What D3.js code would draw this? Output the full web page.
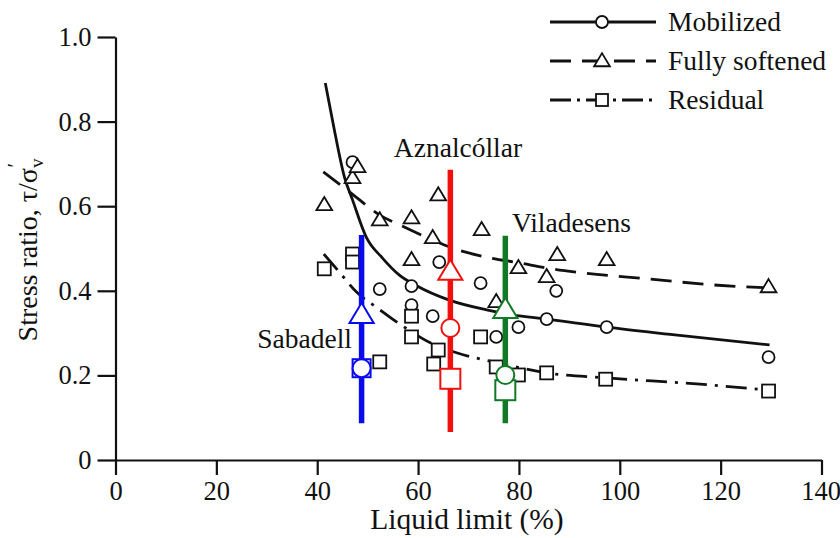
<!DOCTYPE html>
<html>
<head>
<meta charset="utf-8">
<script src="https://cdn.jsdelivr.net/npm/d3@7"></script>
<style>
  html, body { margin: 0; padding: 0; background: #fff; }
  svg { display: block; }
  text { font-family: "Liberation Serif", "Times New Roman", serif; fill: #111; }
</style>
</head>
<body>
<svg id="chart" width="840" height="538"></svg>
<script>
// ---------- data ----------
const xTicks = [0, 20, 40, 60, 80, 100, 120, 140];
const yTicks = [0, 0.2, 0.4, 0.6, 0.8, 1.0];
const yTickLabels = ["0", "0.2", "0.4", "0.6", "0.8", "1.0"];

// Trend curves
const mobilizedCurveLL = [41.6, 43.4, 45.4, 47.0, 49.8, 52.9, 56.3, 59.7, 66.2, 73.6, 78.7, 85.5, 97.4, 110, 129.7];
const mobilizedCurveY  = [0.891, 0.78, 0.669, 0.615, 0.525, 0.478, 0.437, 0.412, 0.378, 0.355, 0.343, 0.333, 0.314, 0.297, 0.272];

const softenedCurveLL = [41.2, 46.4, 52.4, 56.3, 62.9, 66.8, 74.2, 80.1, 85.5, 91.4, 105.9, 118.4, 129.7];
const softenedCurveY  = [0.681, 0.634, 0.579, 0.556, 0.520, 0.501, 0.478, 0.466, 0.454, 0.444, 0.428, 0.414, 0.407];

const residualCurveLL = [41.3, 44.4, 47.8, 52.0, 56.3, 63.3, 67.8, 76.1, 85.5, 97.4, 115.2, 129.7];
const residualCurveY  = [0.487, 0.444, 0.397, 0.359, 0.322, 0.272, 0.253, 0.229, 0.206, 0.194, 0.180, 0.165];

// Data points
const mobilizedLL = [47.0, 52.4, 58.7, 58.7, 62.9, 64.2, 72.4, 75.5, 79.9, 85.5, 87.4, 97.4, 129.5];
const mobilizedY  = [0.704, 0.404, 0.411, 0.366, 0.340, 0.468, 0.418, 0.291, 0.314, 0.333, 0.400, 0.314, 0.243];

const softenedLL = [41.4, 47.0, 48.0, 52.4, 58.7, 58.7, 62.9, 64.0, 72.6, 75.5, 79.9, 85.5, 87.6, 97.4, 129.5];
const softenedY  = [0.603, 0.667, 0.693, 0.567, 0.572, 0.473, 0.525, 0.626, 0.544, 0.374, 0.454, 0.433, 0.485, 0.473, 0.409];

const residualLL = [41.4, 47.0, 47.0, 52.4, 58.7, 58.7, 64.0, 63.1, 72.4, 75.5, 79.9, 85.5, 97.2, 129.5];
const residualY  = [0.452, 0.487, 0.468, 0.232, 0.340, 0.291, 0.260, 0.227, 0.291, 0.220, 0.201, 0.206, 0.191, 0.163];

// Sites
const siteNames   = ["Sabadell", "Aznalcóllar", "Viladesens"];
const siteLL      = [48.8, 66.4, 77.3];
const siteRangeLo = [0.087, 0.066, 0.087];
const siteRangeHi = [0.532, 0.686, 0.530];
const siteSoftened  = [0.343, 0.445, 0.355];
const siteMobilized = [0.217, 0.312, 0.201];
const siteResidual  = [0.217, 0.192, 0.165];
const siteColors  = ["#0a0aee", "#f01010", "#127a26"];

// ---------- layout ----------
const svg = d3.select("#chart");
const x = d3.scaleLinear().domain([0, 140]).range([115.5, 821.5]);
const y = d3.scaleLinear().domain([0, 1]).range([460, 37]);
const serif = '"Liberation Serif", "Times New Roman", serif';

// axes
const xAxis = d3.axisBottom(x).tickValues(xTicks).tickSize(15).tickPadding(6).tickSizeOuter(0);
const gx = svg.append("g").attr("transform", `translate(0,${y(0)})`).call(xAxis);
const yAxis = d3.axisLeft(y).tickValues(yTicks).tickFormat((d, i) => yTickLabels[i]).tickSize(18).tickPadding(6).tickSizeOuter(0);
const gy = svg.append("g").attr("transform", `translate(${x(0)},0)`).call(yAxis);
[gx, gy].forEach(g => {
  g.select(".domain").attr("stroke", "#111").attr("stroke-width", 2.2);
  g.selectAll(".tick line").attr("stroke", "#111").attr("stroke-width", 2.2);
  g.selectAll(".tick text").attr("fill", "#111")
    .style("font-family", serif)
    .style("font-size", "26.5px");
});
// keep the last x label inside the frame
gx.selectAll(".tick text").filter(d => d === 140).attr("text-anchor", "end").attr("dx", "19");

// axis titles
svg.append("text").attr("x", 467).attr("y", 529).attr("text-anchor", "middle")
  .style("font-size", "29.5px").text("Liquid limit (%)");
const yt = svg.append("text").attr("transform", "translate(37,250) rotate(-90)")
  .attr("text-anchor", "middle").style("font-size", "28px");
yt.append("tspan").text("Stress ratio, τ/σ");
yt.append("tspan").attr("dy", 6).style("font-size", "19px").text("v");
yt.append("tspan").attr("dx", -9).attr("dy", -21).style("font-size", "21px").text("′");

// curves
const line = d3.line().x(d => x(d[0])).y(d => y(d[1])).curve(d3.curveMonotoneX);
const zip = (a, b) => a.map((v, i) => [v, b[i]]);
const curveStyles = [
  { data: zip(mobilizedCurveLL, mobilizedCurveY), dash: null },
  { data: zip(softenedCurveLL, softenedCurveY), dash: "21,11" },
  { data: zip(residualCurveLL, residualCurveY), dash: "21,8,3,8" }
];
curveStyles.forEach(c => {
  svg.append("path").attr("d", line(c.data)).attr("fill", "none")
    .attr("stroke", "#111").attr("stroke-width", 2.8)
    .attr("stroke-dasharray", c.dash);
});

// marker shapes
function drawMarker(g, type, cx, cy, size, color, sw) {
  if (type === "circle") {
    g.append("circle").attr("cx", cx).attr("cy", cy).attr("r", size)
      .attr("fill", "#fff").attr("stroke", color).attr("stroke-width", sw);
  } else if (type === "square") {
    g.append("rect").attr("x", cx - size).attr("y", cy - size)
      .attr("width", 2 * size).attr("height", 2 * size)
      .attr("fill", "#fff").attr("stroke", color).attr("stroke-width", sw);
  } else {
    const h = size * 1.75;
    g.append("path")
      .attr("d", `M${cx},${cy - h * 0.6} L${cx + size * 1.05},${cy + h * 0.4} L${cx - size * 1.05},${cy + h * 0.4} Z`)
      .attr("fill", "#fff").attr("stroke", color).attr("stroke-width", sw).attr("stroke-linejoin", "miter");
  }
}

const pts = svg.append("g");
mobilizedLL.forEach((v, i) => drawMarker(pts, "circle", x(v), y(mobilizedY[i]), 6, "#111", 1.8));
residualLL.forEach((v, i) => drawMarker(pts, "square", x(v), y(residualY[i]), 6.5, "#111", 1.8));
softenedLL.forEach((v, i) => drawMarker(pts, "triangle", x(v), y(softenedY[i]), 7.5, "#111", 1.8));

// sites
const sites = svg.append("g");
siteLL.forEach((v, i) => {
  sites.append("line").attr("x1", x(v)).attr("x2", x(v))
    .attr("y1", y(siteRangeLo[i])).attr("y2", y(siteRangeHi[i]))
    .attr("stroke", siteColors[i]).attr("stroke-width", 5.5);
});
siteLL.forEach((v, i) => {
  drawMarker(sites, "square", x(v), y(siteResidual[i]), i === 0 ? 9 : 10, siteColors[i], 2);
  drawMarker(sites, "circle", x(v), y(siteMobilized[i]), 9, siteColors[i], 2);
  drawMarker(sites, "triangle", x(v), y(siteSoftened[i]), 11.5, siteColors[i], 2);
});

// site labels
svg.append("text").attr("x", 352).attr("y", 348).attr("text-anchor", "end").style("font-size", "27.5px").text(siteNames[0]);
svg.append("text").attr("x", 458).attr("y", 157).attr("text-anchor", "middle").style("font-size", "27.5px").text(siteNames[1]);
svg.append("text").attr("x", 512).attr("y", 232).attr("text-anchor", "start").style("font-size", "27.5px").text(siteNames[2]);

// legend
const legendNames = ["Mobilized", "Fully softened", "Residual"];
const legendTypes = ["circle", "triangle", "square"];
const legendDash = [null, "21,11", "21,6,3,6"];
const leg = svg.append("g");
legendNames.forEach((n, i) => {
  const ly = 22 + i * 39;
  leg.append("line").attr("x1", 550).attr("x2", 656).attr("y1", ly).attr("y2", ly)
    .attr("stroke", "#111").attr("stroke-width", 2.8).attr("stroke-dasharray", legendDash[i]);
  drawMarker(leg, legendTypes[i], 602, ly, legendTypes[i] === "triangle" ? 7.5 : 6, "#111", 1.8);
  leg.append("text").attr("x", 668).attr("y", ly + 9).style("font-size", "27.5px").text(n);
});
</script>
</body>
</html>
